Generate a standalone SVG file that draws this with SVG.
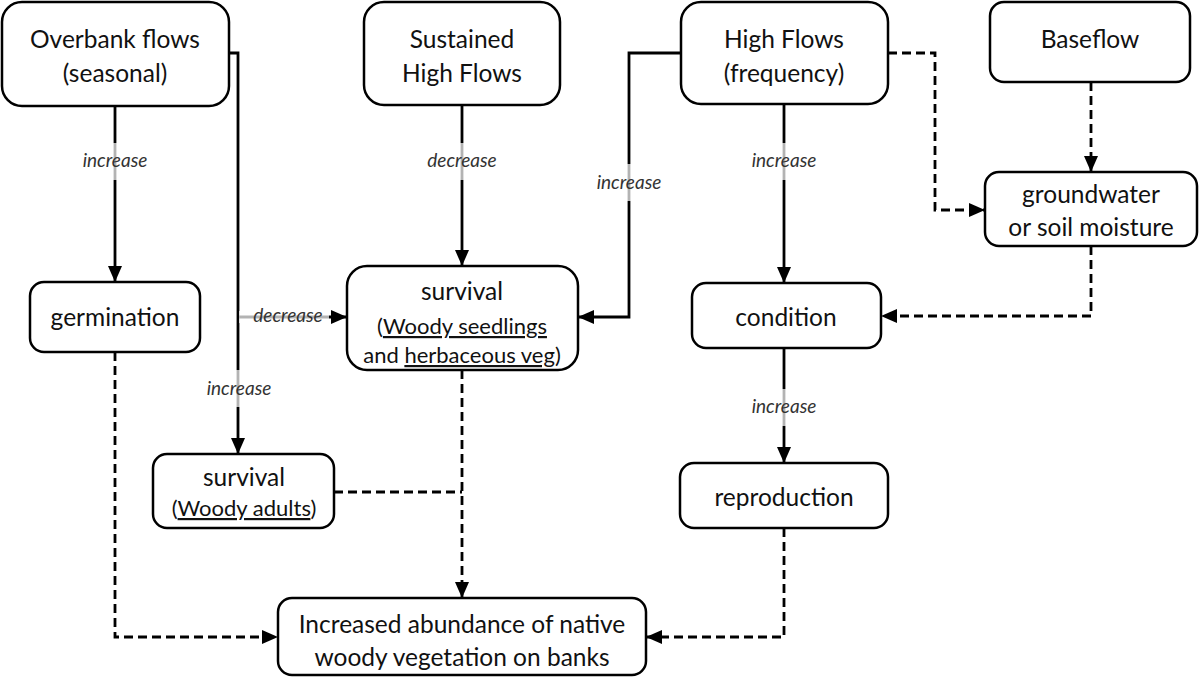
<svg xmlns="http://www.w3.org/2000/svg" width="1200" height="681" viewBox="0 0 1200 681">
<defs>
<marker id="ah" markerUnits="userSpaceOnUse" markerWidth="16" markerHeight="14" refX="15" refY="7" orient="auto">
<path d="M0,0 L16,7 L0,14 Z" fill="#000"/>
</marker>
</defs>
<style>
.box{fill:#fff;stroke:#000;stroke-width:2.5}
.t{font-family:Lato,"Open Sans",sans-serif;font-size:24.5px;fill:#111;text-anchor:middle}
.sm{font-size:22px}
.s{fill:none;stroke:#000;stroke-width:2.8}
.d{fill:none;stroke:#000;stroke-width:2.8;stroke-dasharray:9 5}
.lbl{font-family:Lato,"Open Sans",sans-serif;font-size:19px;font-style:italic;fill:#333;text-anchor:middle}
.veil{fill:#fff;opacity:0.7}
.u{text-decoration:underline}
</style>
<rect width="1200" height="681" fill="#fff"/>
<g id="connectors">
<path class="s" d="M115,106 V281" marker-end="url(#ah)"/>
<path class="s" d="M229,53 H238 V453" marker-end="url(#ah)"/>
<path class="s" d="M238,317 H346" marker-end="url(#ah)"/>
<path class="s" d="M462,105 V265" marker-end="url(#ah)"/>
<path class="s" d="M681,53 H629 V317 H579" marker-end="url(#ah)"/>
<path class="s" d="M784,104 V282" marker-end="url(#ah)"/>
<path class="d" d="M888,53 H935 V210 H984" marker-end="url(#ah)"/>
<path class="d" d="M1091,82 V171" marker-end="url(#ah)"/>
<path class="d" d="M1091,246 V316 H882" marker-end="url(#ah)"/>
<path class="s" d="M784,348 V462" marker-end="url(#ah)"/>
<path class="d" d="M784,528 V637 H647" marker-end="url(#ah)"/>
<path class="d" d="M115,352 V637 H277" marker-end="url(#ah)"/>
<path class="d" d="M462,370 V597" marker-end="url(#ah)"/>
<path class="d" d="M334,492 H462"/>
<rect class="veil" x="110" y="143" width="10" height="37"/>
<rect class="veil" x="457" y="143" width="10" height="37"/>
<rect class="veil" x="624" y="164" width="10" height="37"/>
<rect class="veil" x="779" y="143" width="10" height="37"/>
<rect class="veil" x="779" y="389" width="10" height="37"/>
<rect class="veil" x="233" y="370" width="10" height="37"/>
<rect class="veil" x="239" y="311" width="90" height="12"/>
<text class="lbl" x="115" y="167">increase</text>
<text class="lbl" x="462" y="167">decrease</text>
<text class="lbl" x="629" y="189">increase</text>
<text class="lbl" x="784" y="167">increase</text>
<text class="lbl" x="784" y="413">increase</text>
<text class="lbl" x="239" y="395">increase</text>
<text class="lbl" x="288" y="322">decrease</text>
</g>
<g id="overbank">
<rect class="box" x="2" y="2" width="227" height="104" rx="20"/>
<text class="t" x="115" y="48">Overbank flows</text>
<text class="t" x="115" y="82">(seasonal)</text>
</g>
<g id="sustained">
<rect class="box" x="364" y="2" width="196" height="103" rx="20"/>
<text class="t" x="462" y="48">Sustained</text>
<text class="t" x="462" y="82">High Flows</text>
</g>
<g id="highflows">
<rect class="box" x="681" y="2" width="207" height="102" rx="20"/>
<text class="t" x="784" y="48">High Flows</text>
<text class="t" x="784" y="82">(frequency)</text>
</g>
<g id="baseflow">
<rect class="box" x="990" y="2" width="200" height="80" rx="14"/>
<text class="t" x="1090" y="48">Baseflow</text>
</g>
<g id="groundwater">
<rect class="box" x="985" y="172" width="212" height="74" rx="14"/>
<text class="t" x="1091" y="203">groundwater</text>
<text class="t" x="1091" y="236">or soil moisture</text>
</g>
<g id="germination">
<rect class="box" x="30" y="282" width="170" height="70" rx="14"/>
<text class="t" x="115" y="326">germination</text>
</g>
<g id="survival-seedlings">
<rect class="box" x="347" y="266" width="231" height="104" rx="20"/>
<text class="t" x="462" y="300">survival</text>
<text class="t sm" x="462" y="334">(<tspan class="u">Woody seedlings</tspan></text>
<text class="t sm" x="462" y="363">and <tspan class="u">herbaceous veg</tspan>)</text>
</g>
<g id="condition">
<rect class="box" x="692" y="283" width="189" height="65" rx="14"/>
<text class="t" x="786" y="326">condition</text>
</g>
<g id="survival-adults">
<rect class="box" x="153" y="454" width="181" height="74" rx="14"/>
<text class="t" x="244" y="486">survival</text>
<text class="t sm" x="244" y="516">(<tspan class="u">Woody adults</tspan>)</text>
</g>
<g id="reproduction">
<rect class="box" x="680" y="463" width="208" height="65" rx="14"/>
<text class="t" x="784" y="506">reproduction</text>
</g>
<g id="abundance">
<rect class="box" x="278" y="598" width="368" height="77" rx="14"/>
<text class="t" x="462" y="633">Increased abundance of native</text>
<text class="t" x="462" y="666">woody vegetation on banks</text>
</g>
</svg>
